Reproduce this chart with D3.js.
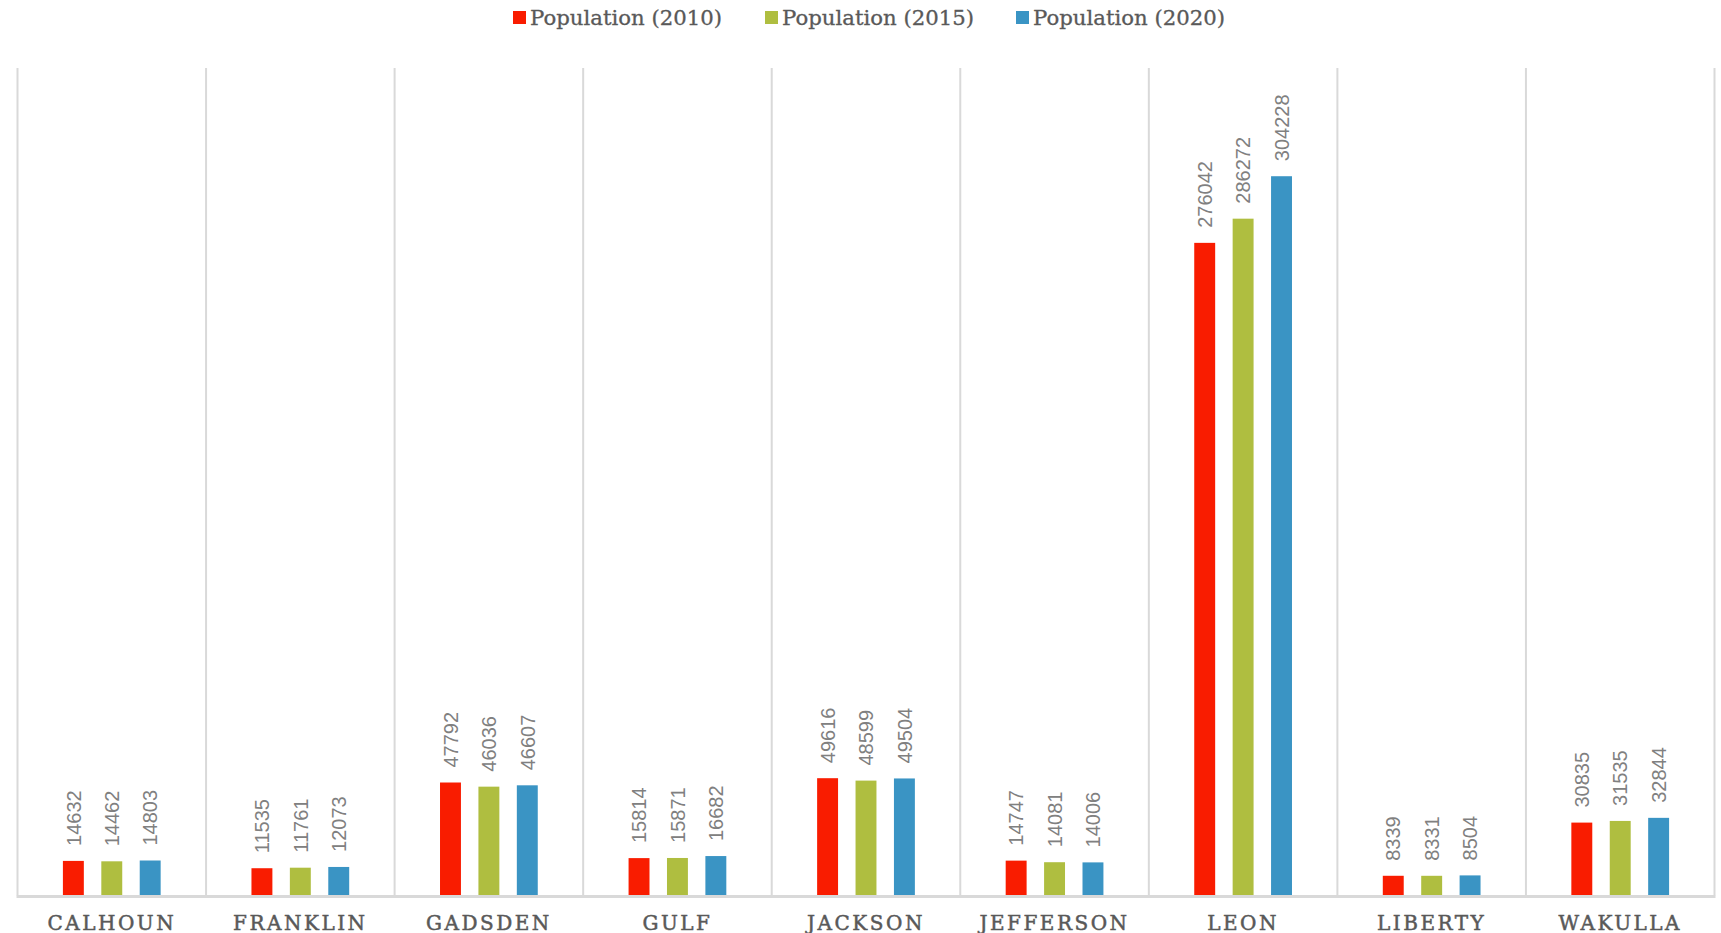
<!DOCTYPE html>
<html><head><meta charset="utf-8">
<script src="https://cdn.jsdelivr.net/npm/d3@7"></script>
<style>body{margin:0;background:#fff;}svg{display:block;}</style>
</head><body>
<svg id="c" width="1721" height="933"></svg>
<script>
const categories = ["CALHOUN","FRANKLIN","GADSDEN","GULF","JACKSON","JEFFERSON","LEON","LIBERTY","WAKULLA"];
const seriesNames = ["Population (2010)","Population (2015)","Population (2020)"];
const pop2010 = [14632,11535,47792,15814,49616,14747,276042,8339,30835];
const pop2015 = [14462,11761,46036,15871,48599,14081,286272,8331,31535];
const pop2020 = [14803,12073,46607,16682,49504,14006,304228,8504,32844];
const colors = ["#f91c00","#afbe40","#3a94c4"];
const yMax = 350000;

(function(){
const series = [pop2010,pop2015,pop2020];
const svg = d3.select("#c");
const pLeft = 17.5, pRight = 1714.5, pTop = 68, pBottom = 895.5;

const x = d3.scaleBand().domain(categories).range([pLeft,pRight]).paddingInner(0).paddingOuter(0);
const y = d3.scaleLinear().domain([0,yMax]).range([pBottom,pTop]);
const bw = x.bandwidth();
const barW = bw*0.111;
const step = bw*0.2037;

const bounds = categories.map(c=>x(c)).concat([pRight]);
svg.append("g").selectAll("line").data(bounds).join("line")
  .attr("x1",d=>d).attr("x2",d=>d).attr("y1",pTop).attr("y2",pBottom)
  .attr("stroke","#d9d9d9").attr("stroke-width",2);

series.forEach((vals,si)=>{
  const g = svg.append("g");
  g.selectAll("rect").data(vals).join("rect")
    .attr("x",(d,i)=>x(categories[i])+bw/2+(si-1)*step-barW/2)
    .attr("width",barW)
    .attr("y",d=>y(d))
    .attr("height",d=>pBottom-y(d))
    .attr("fill",colors[si]);
  g.selectAll("text").data(vals).join("text")
    .attr("transform",(d,i)=>`translate(${x(categories[i])+bw/2+(si-1)*step},${y(d)-15}) rotate(-90)`)
    .attr("dy","0.36em")
    .attr("text-anchor","start")
    .attr("font-family","'Liberation Sans', Arial, sans-serif")
    .attr("font-size",20)
    .attr("fill","#808080")
    .text(d=>d);
});

svg.append("line").attr("x1",pLeft-1).attr("x2",pRight+1).attr("y1",pBottom+1).attr("y2",pBottom+1)
  .attr("stroke","#d9d9d9").attr("stroke-width",3);

const xAxis = d3.axisBottom(x).tickSize(0).tickPadding(0);
const ga = svg.append("g").attr("transform",`translate(0,${pBottom})`).call(xAxis);
ga.select(".domain").remove();
ga.selectAll("text")
  .attr("y",34).attr("dy",0)
  .attr("font-family","'DejaVu Serif', serif")
  .attr("font-size",20)
  .attr("letter-spacing","2.5px")
  .attr("fill","#595959")
  .attr("stroke","#595959").attr("stroke-width",0.5);

const legX = [513, 765, 1016];
const lg = svg.append("g");
seriesNames.forEach((n,i)=>{
  lg.append("rect").attr("x",legX[i]).attr("y",11).attr("width",13).attr("height",13).attr("fill",colors[i]);
  lg.append("text").attr("x",legX[i]+17).attr("y",17.5).attr("dy","0.36em")
    .attr("font-family","'DejaVu Serif', serif").attr("font-size",20)
    .attr("textLength",192).attr("lengthAdjust","spacingAndGlyphs")
    .attr("fill","#595959").attr("stroke","#595959").attr("stroke-width",0.3).text(n);
});
})();
</script>
</body></html>
